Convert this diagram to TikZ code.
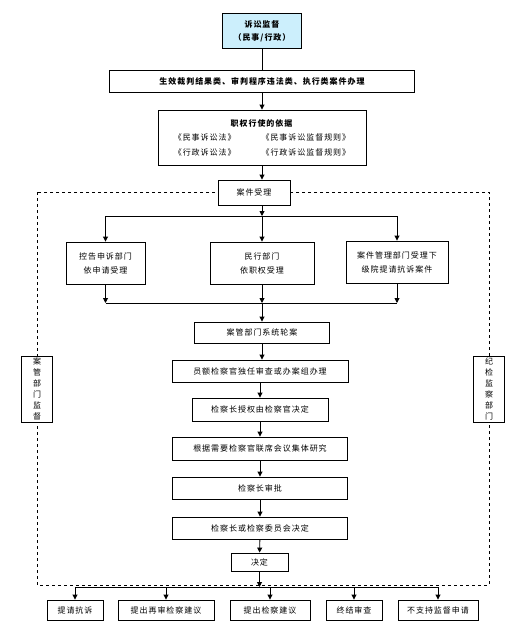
\documentclass[tikz,border=0pt]{standalone}
\usepackage{fontspec}
\setmainfont[LetterSpace=12]{Noto Sans CJK SC}
\usetikzlibrary{arrows.meta}

\begin{document}
\begin{tikzpicture}[x=1pt, y=-1pt, line width=0.9pt, >={Triangle[length=5pt,width=5pt]},
  main/.style = {draw, fill=white, inner sep=1pt, align=center, font=\fontsize{8}{12}\selectfont},
  side/.style = {main, minimum width=31, minimum height=66, font=\fontsize{8}{11}\selectfont}]
  \useasboundingbox (0,0) rectangle (523,638);
  % supervision frame
  \draw[dashed, line width=0.8pt] (37,192) rectangle (489,585);
  \node[main, fill=cyan!20, minimum width=79, minimum height=35, font=\fontsize{8}{13}\selectfont\bfseries] (1) at (262,31) {诉讼监督\\（民事/行政）};
  \node[main, minimum width=305, minimum height=22, font=\fontsize{8}{12}\selectfont\bfseries] (2) at (262,81) {生效裁判结果类、审判程序违法类、执行类案件办理};
  \node[main, minimum width=208, minimum height=55, font=\fontsize{8}{14.5}\selectfont] (3) at (262,137.5)
    {\textbf{职权行使的依据}\\《民事诉讼法》\hspace{26pt}《民事诉讼监督规则》\\《行政诉讼法》\hspace{26pt}《行政诉讼监督规则》};
  \node[main, minimum width=72, minimum height=25] (4) at (254,192.5) {案件受理};
  \node[main, minimum width=79, minimum height=42, font=\fontsize{8}{14}\selectfont] (5) at (105.5,263) {控告申诉部门\\依申请受理};
  \node[main, minimum width=104, minimum height=42, font=\fontsize{8}{14}\selectfont] (6) at (262,263) {民行部门\\依职权受理};
  \node[main, minimum width=102, minimum height=42, font=\fontsize{8}{14}\selectfont] (7) at (397,262) {案件管理部门受理下\\级院提请抗诉案件};
  \node[main, minimum width=135, minimum height=21] (8) at (262,332.5) {案管部门系统轮案};
  \node[main, minimum width=176, minimum height=22] (9) at (260,371) {员额检察官独任审查或办案组办理};
  \node[main, minimum width=136, minimum height=23] (10) at (260,409.5) {检察长授权由检察官决定};
  \node[main, minimum width=175, minimum height=23] (11) at (260,448.5) {根据需要检察官联席会议集体研究};
  \node[main, minimum width=175, minimum height=22] (12) at (260,488) {检察长审批};
  \node[main, minimum width=175, minimum height=22] (13) at (260,528) {检察长或检察委员会决定};
  \node[main, minimum width=57, minimum height=18] (14) at (259.5,562) {决定};
  \node[main, minimum width=56, minimum height=20] (a) at (75,610) {提请抗诉};
  \node[main, minimum width=96, minimum height=20] (b) at (166,610) {提出再审检察建议};
  \node[main, minimum width=80, minimum height=20] (c) at (270,610) {提出检察建议};
  \node[main, minimum width=56, minimum height=20] (d) at (354,610) {终结审查};
  \node[main, minimum width=80, minimum height=20] (e) at (438,610) {不支持监督申请};
  \node[side] (l) at (37,389) {案\\管\\部\\门\\监\\督};
  \node[side] (r) at (489,389) {纪\\检\\监\\察\\部\\门};
  % spine
  \coordinate (s1) at (262,216);
  \coordinate (m1) at (262,303);
  \coordinate (s2) at (262,587);
  \draw (1) -- (2);
  \draw[->] (2) -- (3);
  \draw[->] (3) -- (3 |- 4.north);
  \draw[->] (3 |- 4.south) -- (s1);
  \draw[->] (s1) -| (5);
  \draw[->] (s1) -| (7);
  \draw[->] (s1) -- (6);
  \draw[->] (5) -- (5 |- m1);
  \draw[->] (6) -- (m1);
  \draw[->] (7) -- (7 |- m1);
  \draw (5 |- m1) -- (7 |- m1);
  \draw[->] (m1) -- (8);
  \draw[->] (8) -- (8 |- 9.north);
  \draw[->] (9) -- (10);
  \draw[->] (10) -- (11);
  \draw[->] (11) -- (12);
  \draw[->] (12) -- (13);
  \draw[->] (13) -- (14);
  \draw[->] (14) -- (14 |- s2);
  \draw (a |- s2) -- (e |- s2);
  \draw[->] (a |- s2) -- (a);
  \draw[->] (b |- s2) -- (b);
  \draw[->] (c |- s2) -- (c);
  \draw[->] (d |- s2) -- (d);
  \draw[->] (e |- s2) -- (e);
\end{tikzpicture}
\end{document}
